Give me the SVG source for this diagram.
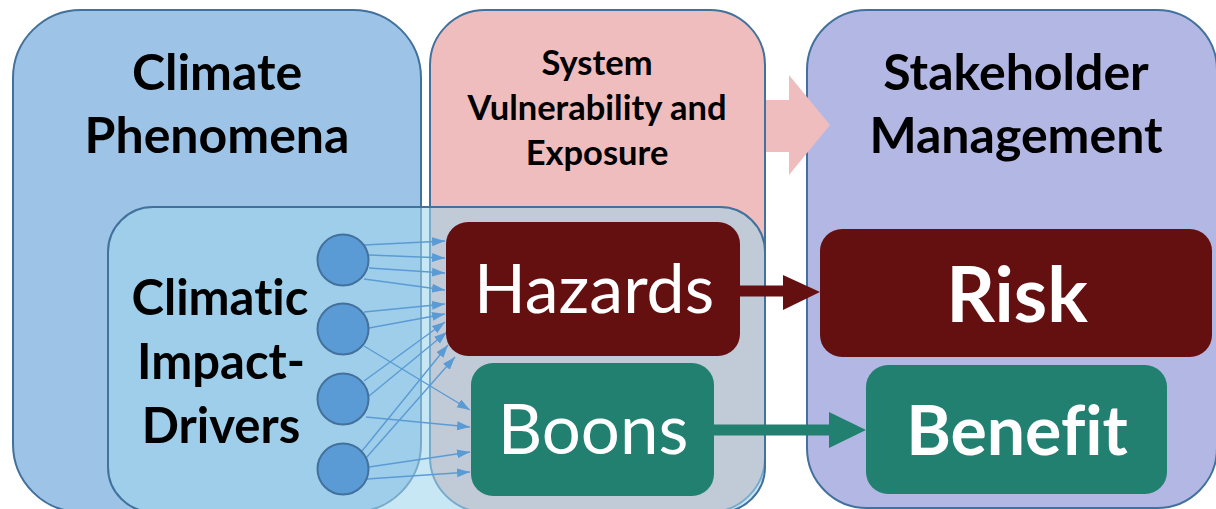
<svg xmlns="http://www.w3.org/2000/svg" width="1216" height="509" viewBox="0 0 1216 509">
  <style>
    .outer { stroke: #41719c; stroke-width: 2; }
    .title { font-family: Lato, "Open Sans", sans-serif; font-weight: bold; fill: #000; text-anchor: middle; font-variant-ligatures: none; }
    .label { font-family: Lato, "Open Sans", sans-serif; fill: #fff; text-anchor: middle; font-variant-ligatures: none; }
    .cid { fill: #5b9bd5; stroke: #41719c; stroke-width: 2; }
    .link { stroke: #5b9bd5; stroke-width: 1.4; fill: none; marker-end: url(#tip); }
  </style>
  <defs>
    <marker id="tip" markerUnits="userSpaceOnUse" markerWidth="14" markerHeight="10" refX="13" refY="5" orient="auto">
      <path d="M0,0.5 L13,5 L0,9.5 Z" fill="#5b9bd5"/>
    </marker>
  </defs>

  <rect width="1216" height="509" fill="#fff"/>

  <g id="climate-phenomena">
    <rect class="outer" x="13" y="10" width="408" height="502" rx="68" fill="#9dc3e6"/>
    <text class="title" font-size="50" x="217" y="90">Climate</text>
    <text class="title" font-size="50" x="217" y="153">Phenomena</text>
  </g>

  <g id="system-vulnerability">
    <rect class="outer" x="430" y="10" width="335" height="502" rx="55" fill="#efbdbd"/>
    <text class="title" font-size="34.5" x="597" y="75">System</text>
    <text class="title" font-size="34.5" x="597" y="120">Vulnerability and</text>
    <text class="title" font-size="34.5" x="597" y="165">Exposure</text>
  </g>

  <g id="stakeholder-management">
    <rect class="outer" x="807" y="10" width="410" height="498" rx="60" fill="#b3b7e4"/>
    <text class="title" font-size="50" x="1016" y="90">Stakeholder</text>
    <text class="title" font-size="50" x="1016" y="153">Management</text>
  </g>

  <!-- flow arrow from vulnerability to management -->
  <g id="flow-arrow">
    <polygon points="766,100 789,100 789,75 830,125 789,175 789,152 766,152" fill="#efbdbd"/>
  </g>

  <g id="climatic-impact-drivers">
    <rect x="108" y="207" width="657" height="305" rx="45" fill="#a0d6ec" fill-opacity="0.58" stroke="#41719c" stroke-width="2"/>
    <text class="title" font-size="49" x="220" y="315">Climatic</text>
    <text class="title" font-size="49" x="221" y="379">Impact-</text>
    <text class="title" font-size="49" x="221" y="443">Drivers</text>
  </g>

  <g id="connectors">
    <line class="link" x1="364" y1="245" x2="445" y2="241"/>
    <line class="link" x1="369" y1="255" x2="445" y2="258"/>
    <line class="link" x1="369" y1="268" x2="445" y2="273"/>
    <line class="link" x1="364" y1="279" x2="445" y2="290"/>
    <line class="link" x1="364" y1="312" x2="445" y2="304"/>
    <line class="link" x1="369" y1="328" x2="445" y2="314"/>
    <line class="link" x1="364" y1="346" x2="470" y2="410"/>
    <line class="link" x1="364" y1="381" x2="445" y2="322"/>
    <line class="link" x1="369" y1="396" x2="447" y2="332"/>
    <line class="link" x1="366" y1="417" x2="470" y2="427"/>
    <line class="link" x1="362" y1="451" x2="448" y2="345"/>
    <line class="link" x1="366" y1="458" x2="455" y2="357"/>
    <line class="link" x1="369" y1="467" x2="470" y2="452"/>
    <line class="link" x1="367" y1="479" x2="470" y2="472"/>
    <!-- hazards to risk -->
    <line x1="740" y1="291" x2="786" y2="291" stroke="#641010" stroke-width="11"/>
    <polygon points="783,275 820,292 783,310" fill="#641010"/>
    <!-- boons to benefit -->
    <line x1="714" y1="430" x2="831" y2="430" stroke="#21806f" stroke-width="11"/>
    <polygon points="829,412 866,430 829,448" fill="#21806f"/>
  </g>

  <g id="driver-1"><circle class="cid" cx="343" cy="260" r="25.5"/></g>
  <g id="driver-2"><circle class="cid" cx="343" cy="329" r="25.5"/></g>
  <g id="driver-3"><circle class="cid" cx="343" cy="399" r="25.5"/></g>
  <g id="driver-4"><circle class="cid" cx="343" cy="469" r="25.5"/></g>

  <g id="hazards">
    <rect x="446" y="222" width="294" height="134" rx="22" fill="#641010"/>
    <text class="label" font-size="68" x="594" y="313">Hazards</text>
  </g>

  <g id="boons">
    <rect x="471" y="363" width="243" height="133" rx="22" fill="#21806f"/>
    <text class="label" font-size="69" x="593" y="454">Boons</text>
  </g>

  <g id="risk">
    <rect x="820" y="229" width="392" height="128" rx="22" fill="#641010"/>
    <text class="label" font-size="76" font-weight="bold" x="1017" y="322">Risk</text>
  </g>

  <g id="benefit">
    <rect x="866" y="365" width="301" height="129" rx="22" fill="#21806f"/>
    <text class="label" font-size="68" font-weight="bold" x="1017" y="455">Benefit</text>
  </g>
</svg>
